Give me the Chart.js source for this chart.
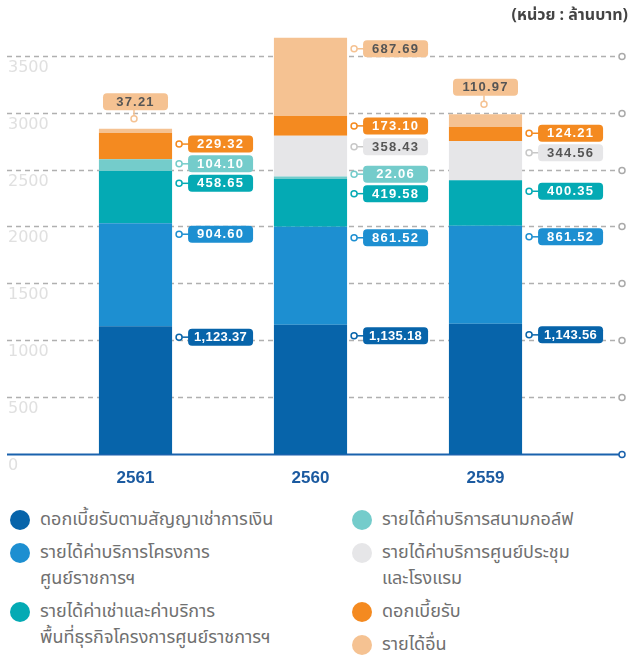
<!DOCTYPE html>
<html>
<head>
<meta charset="utf-8">
<script src="https://cdn.jsdelivr.net/npm/chart.js@4.4.1/dist/chart.umd.min.js"></script>
<style>
  html, body { margin: 0; padding: 0; background: #fff; }
  #wrap { position: relative; width: 629px; height: 661px; overflow: hidden; }
  #chart-box { position: absolute; left: 0; top: 0; width: 629px; height: 495px; }
  #legend { position: absolute; left: 0; top: 507px; width: 629px;
            font-family: 'Noto Sans Thai', 'Noto Sans', sans-serif; font-size: 18px; color: #707070; }
  .col { position: absolute; top: 0; }
  .item { display: flex; align-items: flex-start; margin-bottom: 7px; line-height: 26px; white-space: pre-line; }
  .dot { width: 20px; height: 20px; border-radius: 50%; margin-top: 3px; margin-right: 10px; flex: none; }
</style>
</head>
<body>
<div id="wrap">
  <div id="chart-box"><canvas id="revenue-chart"></canvas></div>
  <div id="legend"></div>
</div>
<script>
// Data (ล้านบาท), bottom of stack first
var years = ['2561', '2560', '2559'];
var leaseInterest = [1123.37, 1135.18, 1143.56];
var govCenterService = [904.60, 861.52, 861.52];
var rentalService = [458.65, 419.58, 400.35];
var golfService = [104.10, 22.06, null];
var conventionHotel = [null, 358.43, 344.56];
var interestIncome = [229.32, 173.10, 124.21];
var otherIncome = [37.21, 687.69, 110.97];
var yTicks = [0, 500, 1000, 1500, 2000, 2500, 3000, 3500];

var seriesNames = [
    'ดอกเบี้ยรับตามสัญญาเช่าการเงิน',
    'รายได้ค่าบริการโครงการ\nศูนย์ราชการฯ',
    'รายได้ค่าเช่าและค่าบริการ\nพื้นที่ธุรกิจโครงการศูนย์ราชการฯ',
    'รายได้ค่าบริการสนามกอล์ฟ',
    'รายได้ค่าบริการศูนย์ประชุม\nและโรงแรม',
    'ดอกเบี้ยรับ',
    'รายได้อื่น'
];
var seriesValues = [leaseInterest, govCenterService, rentalService, golfService,
    conventionHotel, interestIncome, otherIncome];

// styles
var fills = ['#0764aa', '#1d8fd1', '#04aab4', '#74cccb', '#e6e6e8', '#f48a20', '#f5c292'];
var ringColors = ['#0764aa', '#1d8fd1', '#04aab4', '#74cccb', '#c8c8c8', '#f48a20', '#f5c292'];
var tagText = ['#fff', '#fff', '#fff', '#fff', '#555', '#fff', '#555'];
var legendColumn = [0, 0, 0, 1, 1, 1, 1];

function fmt(v) {
    return v.toLocaleString('en-US', { minimumFractionDigits: 2, maximumFractionDigits: 2 });
}

function drawTag(ctx, cx, cy, text, fill, color) {
    var w = 65, h = 17;
    ctx.fillStyle = fill;
    ctx.beginPath();
    ctx.roundRect(cx - w / 2, cy - h / 2, w, h, 4);
    ctx.fill();
    ctx.fillStyle = color;
    ctx.font = 'bold 13px "Liberation Sans", Arial, sans-serif';
    ctx.letterSpacing = text.indexOf(',') >= 0 ? '0.3px' : '1.2px';
    ctx.textAlign = 'center';
    ctx.textBaseline = 'middle';
    ctx.fillText(text, cx, cy + 0.5);
    ctx.letterSpacing = '0px';
}

function drawRing(ctx, x, y, color) {
    ctx.beginPath();
    ctx.arc(x, y, 3, 0, Math.PI * 2);
    ctx.fillStyle = '#fff';
    ctx.fill();
    ctx.lineWidth = 1.5;
    ctx.strokeStyle = color;
    ctx.stroke();
}

var overlay = {
    id: 'overlay',
    beforeDatasetsDraw: function(chart) {
        var ctx = chart.ctx, y = chart.scales.y;
        ctx.save();
        yTicks.forEach(function(v) {
            var py = Math.round(y.getPixelForValue(v)) + 0.5;
            ctx.beginPath();
            if (v === 0) {
                ctx.setLineDash([]);
                ctx.strokeStyle = '#1a62ad';
                ctx.lineWidth = 2;
            } else {
                ctx.setLineDash([5, 4]);
                ctx.strokeStyle = '#b0b0b0';
                ctx.lineWidth = 1.3;
            }
            ctx.moveTo(7, py);
            ctx.lineTo(619, py);
            ctx.stroke();
            ctx.setLineDash([]);
            drawRing(ctx, 622, py, v === 0 ? '#1a62ad' : '#aaa');

            ctx.fillStyle = '#e0e0e0';
            ctx.font = '16px "DejaVu Sans", sans-serif';
            ctx.textAlign = 'left';
            ctx.textBaseline = 'middle';
            ctx.fillText(String(v), 8, py + 11);
        });
        ctx.restore();
    },
    afterDatasetsDraw: function(chart) {
        var ctx = chart.ctx;
        ctx.save();
        years.forEach(function(year, j) {
            var tags = [];
            var top = null;
            chart.data.datasets.forEach(function(ds, i) {
                var v = ds.data[j];
                if (v == null) return;
                var bar = chart.getDatasetMeta(i).data[j];
                var segH = bar.base - bar.y;
                tags.push({ i: i, bar: bar, h: segH, text: fmt(v),
                    want: segH < 20 ? (bar.y + bar.base) / 2 : bar.y + 11 });
                top = { i: i, bar: bar, h: segH, text: fmt(v) };
            });
            // thin top segment gets its tag above the bar
            var above = null;
            if (top && top.h < 20) {
                above = top;
                tags = tags.filter(function(t) { return t.i !== top.i; });
            }
            tags.sort(function(a, b) { return a.want - b.want; });
            tags.forEach(function(t) { t.y = t.want; });
            for (var it = 0; it < 20; it++) {
                for (var k = 1; k < tags.length; k++) {
                    var d = tags[k].y - tags[k - 1].y;
                    if (d < 19.5) {
                        var s = (19.5 - d) / 2;
                        tags[k - 1].y -= s;
                        tags[k].y += s;
                    }
                }
            }
            tags.forEach(function(t) {
                var right = t.bar.x + t.bar.width / 2;
                ctx.strokeStyle = ringColors[t.i];
                ctx.lineWidth = 1.5;
                ctx.beginPath();
                ctx.moveTo(right + 10, t.y);
                ctx.lineTo(right + 17, t.y);
                ctx.stroke();
                drawRing(ctx, right + 7, t.y, ringColors[t.i]);
                drawTag(ctx, right + 16 + 32.5, t.y, t.text, fills[t.i], tagText[t.i]);
            });
            if (above) {
                var b = above.bar;
                var cx = b.x - 1.5;
                ctx.strokeStyle = ringColors[above.i];
                ctx.lineWidth = 1.5;
                ctx.beginPath();
                ctx.moveTo(cx, b.y - 19);
                ctx.lineTo(cx, b.y - 13);
                ctx.stroke();
                drawRing(ctx, cx, b.y - 10, ringColors[above.i]);
                drawTag(ctx, b.x, b.y - 27, above.text, fills[above.i], tagText[above.i]);
            }
        });
        // unit note
        ctx.fillStyle = '#444';
        ctx.font = 'bold 16px "Noto Sans Thai", "Liberation Sans Narrow", sans-serif';
        ctx.textAlign = 'right';
        ctx.textBaseline = 'middle';
        ctx.fillText('(หน่วย : ล้านบาท)', 628, 17);
        ctx.restore();
    }
};

function buildLegend(chart) {
    var box = document.getElementById('legend');
    var cols = [document.createElement('div'), document.createElement('div')];
    cols[0].className = 'col'; cols[0].style.left = '10px';
    cols[1].className = 'col'; cols[1].style.left = '352px';
    chart.data.datasets.forEach(function(ds, i) {
        var item = document.createElement('div');
        item.className = 'item';
        var dot = document.createElement('span');
        dot.className = 'dot';
        dot.style.background = ds.backgroundColor;
        var txt = document.createElement('span');
        txt.textContent = ds.label;
        item.appendChild(dot);
        item.appendChild(txt);
        cols[legendColumn[i]].appendChild(item);
    });
    box.appendChild(cols[0]);
    box.appendChild(cols[1]);
}

function initChart() {
    var ctx = document.getElementById('revenue-chart');
    if (!ctx) return;

    var datasets = seriesValues.map(function(vals, i) {
        return {
            label: seriesNames[i],
            data: vals,
            backgroundColor: fills[i],
            borderWidth: 0,
            barPercentage: 0.418,
            categoryPercentage: 1
        };
    });

    var chart = new Chart(ctx, {
        type: 'bar',
        data: { labels: years, datasets: datasets },
        options: {
            responsive: true,
            maintainAspectRatio: false,
            animation: false,
            layout: { padding: { left: 48, right: 56, top: 27.25, bottom: 0 } },
            plugins: {
                legend: { display: false },
                tooltip: { enabled: false }
            },
            scales: {
                x: {
                    stacked: true,
                    grid: { display: false, drawTicks: false },
                    border: { display: false },
                    ticks: {
                        color: '#1b5aa0',
                        font: { size: 17, weight: 'bold', family: '"Liberation Sans", Arial, sans-serif' },
                        padding: 14
                    },
                    afterFit: function(s) { s.height = 41; }
                },
                y: {
                    stacked: true,
                    display: false,
                    min: 0,
                    max: 3750
                }
            }
        },
        plugins: [overlay]
    });
    buildLegend(chart);
}

if (document.readyState === 'loading') {
    document.addEventListener('DOMContentLoaded', initChart);
} else {
    initChart();
}
</script>
</body>
</html>
